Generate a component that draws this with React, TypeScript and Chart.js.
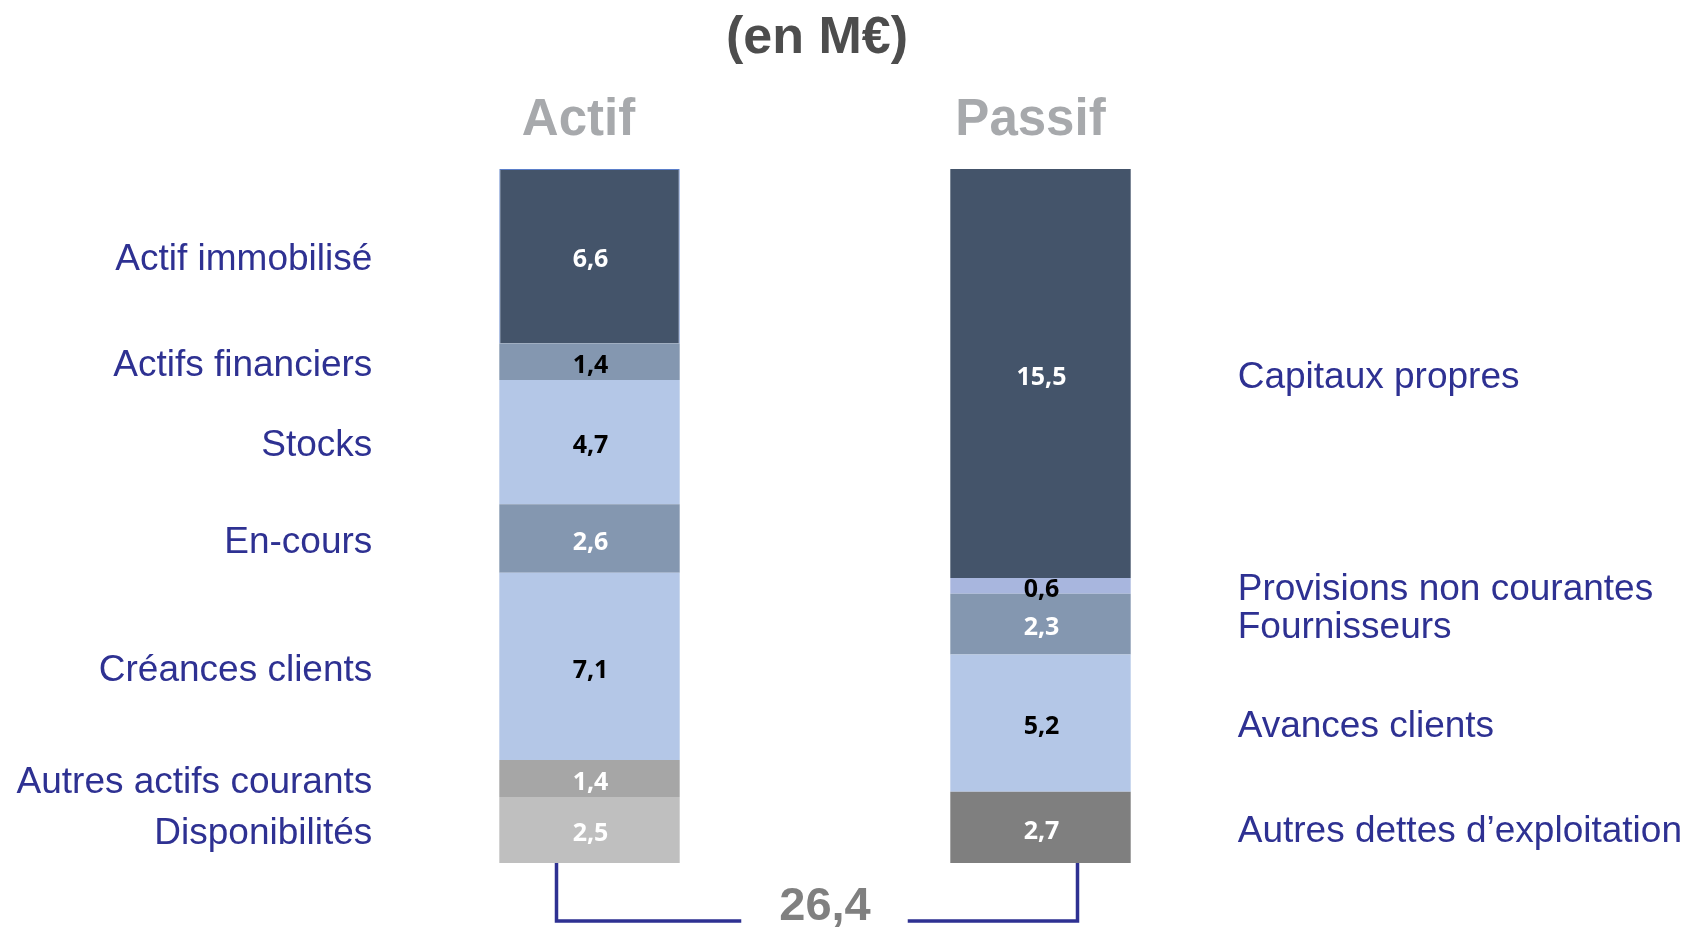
import React, { useEffect, useRef } from "react";
import { Chart, registerables } from "chart.js";

Chart.register(...registerables);

const categories = ["Actif", "Passif"];
const titleText = "(en M€)";
const totalLabel = "26,4";

const actifLabels = [
  "Disponibilités",
  "Autres actifs courants",
  "Créances clients",
  "En-cours",
  "Stocks",
  "Actifs financiers",
  "Actif immobilisé",
];
const actifValues = [2.5, 1.4, 7.1, 2.6, 4.7, 1.4, 6.6];

const passifLabels = [
  "Autres dettes d’exploitation",
  "Avances clients",
  "Fournisseurs",
  "Provisions non courantes",
  "Capitaux propres",
];
const passifValues = [2.7, 5.2, 2.3, 0.6, 15.5];

const actifColors = ["#BFBFBF", "#A6A6A6", "#B4C7E7", "#8497B0", "#B4C7E7", "#8497B0", "#44546A"];
const actifTextColors = ["#FFFFFF", "#FFFFFF", "#000000", "#FFFFFF", "#000000", "#000000", "#FFFFFF"];
const passifColors = ["#7F7F7F", "#B4C7E7", "#8497B0", "#A8B6DE", "#44546A"];
const passifTextColors = ["#FFFFFF", "#000000", "#FFFFFF", "#000000", "#FFFFFF"];

const LABEL_BLUE = "#2E3192";

const fmt = (v: number) => v.toFixed(1).replace(".", ",");

const overlayPlugin = {
  id: "overlay",
  afterDatasetsDraw(chart: any) {
    const ctx = chart.ctx;
    const area = chart.chartArea;
    const xs = chart.scales.x;
    const xA = xs.getPixelForValue(0);
    const xP = xs.getPixelForValue(1);
    const mid = (xA + xP) / 2;
    ctx.save();

    // segment values and side labels
    chart.data.datasets.forEach((ds: any, i: number) => {
      const meta = chart.getDatasetMeta(i);
      const idx = ds.data[0] !== null ? 0 : 1;
      const el: any = meta.data[idx];
      if (!el) return;
      const p = el.getProps(["x", "y", "base", "width"], true);
      const cy = (p.y + p.base) / 2;
      ctx.font = "bold 25px 'Open Sans'";
      ctx.textAlign = "center";
      ctx.textBaseline = "middle";
      ctx.fillStyle = ds.valueColor;
      ctx.fillText(fmt(ds.data[idx]), p.x + 1, cy + 4);

      ctx.font = "37px 'Liberation Sans', Arial";
      ctx.fillStyle = LABEL_BLUE;
      if (idx === 0) {
        ctx.textAlign = "right";
        ctx.fillText(ds.label, p.x - p.width / 2 - 127, cy + 4);
      } else {
        ctx.textAlign = "left";
        ctx.fillText(ds.label, p.x + p.width / 2 + 107, cy + 4);
      }
    });

    // title
    ctx.textAlign = "center";
    ctx.textBaseline = "alphabetic";
    ctx.fillStyle = "#4D4D4D";
    ctx.font = "bold 52px 'Liberation Sans', Arial";
    ctx.fillText(titleText, mid + 2, area.top - 116);

    // column headers
    ctx.fillStyle = "#A7A9AC";
    ctx.font = "bold 51px 'Liberation Sans', Arial";
    ctx.fillText(categories[0], xA - 11, area.top - 34);
    ctx.fillText(categories[1], xP - 10, area.top - 34);

    // bracket with total
    const lineY = area.bottom + 58;
    const txtX = mid + 10;
    ctx.font = "bold 47px 'Liberation Sans', Arial";
    const tw = ctx.measureText(totalLabel).width;
    ctx.fillStyle = "#808080";
    ctx.fillText(totalLabel, txtX, lineY - 1);

    ctx.strokeStyle = LABEL_BLUE;
    ctx.lineWidth = 3.5;
    ctx.lineCap = "butt";
    ctx.lineJoin = "miter";
    ctx.beginPath();
    ctx.moveTo(xA - 33, area.bottom);
    ctx.lineTo(xA - 33, lineY);
    ctx.lineTo(txtX - tw / 2 - 38, lineY);
    ctx.moveTo(txtX + tw / 2 + 37, lineY);
    ctx.lineTo(xP + 37, lineY);
    ctx.lineTo(xP + 37, area.bottom);
    ctx.stroke();

    ctx.restore();
  },
};

export default function App() {
  const canvasRef = useRef<HTMLCanvasElement | null>(null);

  useEffect(() => {
    if (!canvasRef.current) return;
    const datasets: any[] = [];
    actifLabels.forEach((lab, i) => {
      datasets.push({
        label: lab,
        data: [actifValues[i], null],
        backgroundColor: actifColors[i],
        borderColor: i === actifLabels.length - 1 ? "#5B7FC9" : actifColors[i],
        borderWidth: i === actifLabels.length - 1 ? 1 : 0,
        valueColor: actifTextColors[i],
      });
    });
    passifLabels.forEach((lab, i) => {
      datasets.push({
        label: lab,
        data: [null, passifValues[i]],
        backgroundColor: passifColors[i],
        borderWidth: 0,
        valueColor: passifTextColors[i],
      });
    });
    const total = actifValues.reduce((a, b) => a + b, 0);

    const chart = new Chart(canvasRef.current, {
      type: "bar",
      data: { labels: categories, datasets },
      options: {
        animation: false,
        responsive: false,
        devicePixelRatio: 1,
        layout: { padding: { left: 364, right: 429, top: 169, bottom: 64 } },
        datasets: { bar: { barPercentage: 0.4, categoryPercentage: 1 } },
        scales: {
          x: { stacked: true, display: false },
          y: { stacked: true, display: false, min: 0, max: total },
        },
        plugins: {
          legend: { display: false },
          tooltip: { enabled: false },
          title: { display: false },
        },
      } as any,
      plugins: [overlayPlugin],
    });
    return () => chart.destroy();
  }, []);

  return (
    <div style={{ position: "fixed", left: 0, top: 0, width: 1695, height: 927, background: "#FFFFFF" }}>
      <canvas ref={canvasRef} width={1695} height={927} style={{ width: 1695, height: 927 }} />
    </div>
  );
}
